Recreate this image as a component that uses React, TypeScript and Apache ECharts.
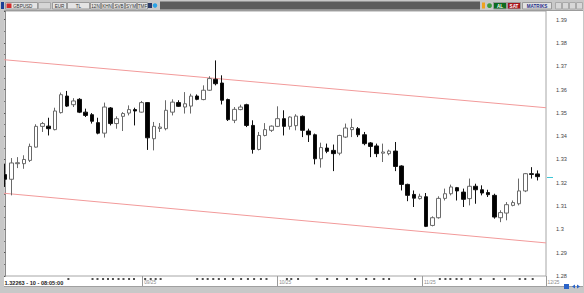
import React, { useEffect, useRef } from "react";
import * as echarts from "echarts";

// ---- data ----
const SYMBOL = "GBPUSD";
const PERIOD = "10";
const LAST_TIME = "08:05:00";
const LAST_PRICE = 1.32263;

const OPEN = [
  1.3235, 1.3215, 1.3282, 1.3282, 1.3296, 1.3353, 1.3442, 1.3443, 1.3428, 1.3501,
  1.3572, 1.3535, 1.3558, 1.3503, 1.3492, 1.3458, 1.3413, 1.3521, 1.3454, 1.3485,
  1.3499, 1.3514, 1.3503, 1.3544, 1.3389, 1.3433, 1.3432, 1.3503, 1.3544, 1.3525,
  1.3529, 1.3572, 1.3557, 1.3597, 1.3644, 1.3628, 1.3557, 1.3468, 1.3514, 1.3535,
  1.3446, 1.3343, 1.3403, 1.3425, 1.3442, 1.3475, 1.3442, 1.3445, 1.3485, 1.3422,
  1.3406, 1.3303, 1.3349, 1.3339, 1.3327, 1.3396, 1.3428, 1.3432, 1.3406, 1.3371,
  1.3358, 1.3327, 1.3325, 1.3336, 1.3272, 1.3193, 1.315, 1.3132, 1.314, 1.3017,
  1.305, 1.3133, 1.3153, 1.3179, 1.316, 1.3132, 1.3185, 1.317, 1.3158, 1.3146,
  1.305, 1.307, 1.3103, 1.311, 1.3165, 1.3239, 1.3238,
];
const HIGH = [
  1.3282, 1.3306, 1.331, 1.3318, 1.3368, 1.3451, 1.3461, 1.3479, 1.3522, 1.3587,
  1.3594, 1.3563, 1.3563, 1.3518, 1.3499, 1.3479, 1.3544, 1.3525, 1.3485, 1.3503,
  1.3532, 1.3522, 1.3551, 1.3546, 1.3461, 1.3456, 1.3554, 1.3558, 1.3554, 1.3589,
  1.3582, 1.3579, 1.3618, 1.3657, 1.3725, 1.3661, 1.3561, 1.3525, 1.3535, 1.3539,
  1.3468, 1.3418, 1.3456, 1.3446, 1.3528, 1.3511, 1.3485, 1.3494, 1.3489, 1.3432,
  1.3411, 1.3372, 1.3368, 1.3364, 1.3406, 1.3454, 1.3475, 1.3439, 1.3418, 1.3375,
  1.3368, 1.3368, 1.3342, 1.3375, 1.3275, 1.3196, 1.3167, 1.3153, 1.3156, 1.3056,
  1.3142, 1.3175, 1.3192, 1.3182, 1.3175, 1.3218, 1.3196, 1.3189, 1.317, 1.3153,
  1.3082, 1.3117, 1.3124, 1.3218, 1.3242, 1.3267, 1.3253,
];
const LOW = [
  1.3182, 1.3146, 1.3263, 1.326, 1.3289, 1.3351, 1.3418, 1.3403, 1.3425, 1.3497,
  1.3525, 1.3525, 1.3499, 1.3482, 1.3454, 1.3408, 1.3394, 1.3446, 1.3432, 1.3422,
  1.3489, 1.3446, 1.3501, 1.3341, 1.3339, 1.3418, 1.3425, 1.3489, 1.3525, 1.3497,
  1.3497, 1.3554, 1.3554, 1.3594, 1.3618, 1.3536, 1.3465, 1.3456, 1.3511, 1.3439,
  1.3325, 1.3339, 1.3399, 1.3418, 1.3439, 1.3403, 1.3428, 1.3425, 1.3396, 1.3375,
  1.3279, 1.3265, 1.3327, 1.325, 1.3318, 1.3392, 1.3396, 1.3396, 1.3361, 1.331,
  1.331, 1.3289, 1.3318, 1.325, 1.3167, 1.3121, 1.3096, 1.3128, 1.301, 1.3013,
  1.3046, 1.3124, 1.3146, 1.3124, 1.3096, 1.3103, 1.311, 1.3146, 1.3139, 1.3046,
  1.3031, 1.3039, 1.3099, 1.3103, 1.316, 1.3218, 1.321,
];
const CLOSE = [
  1.3215, 1.3285, 1.3286, 1.33, 1.3356, 1.3442, 1.3454, 1.3432, 1.3508, 1.3578,
  1.3529, 1.3551, 1.3503, 1.3489, 1.3464, 1.3413, 1.3525, 1.3454, 1.3475, 1.3497,
  1.3514, 1.3508, 1.3544, 1.3393, 1.3442, 1.3439, 1.3511, 1.3546, 1.3528, 1.3539,
  1.3572, 1.3558, 1.3597, 1.3647, 1.3625, 1.3554, 1.3471, 1.3515, 1.3525, 1.3446,
  1.3343, 1.3403, 1.3428, 1.3443, 1.3475, 1.3442, 1.3482, 1.3486, 1.3425, 1.3406,
  1.3303, 1.3351, 1.3335, 1.3325, 1.3403, 1.3435, 1.3437, 1.3406, 1.3368, 1.3356,
  1.3325, 1.3332, 1.3336, 1.327, 1.3193, 1.3146, 1.3134, 1.3142, 1.3013, 1.305,
  1.3133, 1.3153, 1.3182, 1.3165, 1.3129, 1.3185, 1.317, 1.3156, 1.3149, 1.3053,
  1.3072, 1.3106, 1.3115, 1.3165, 1.3239, 1.3236, 1.32263,
];

// trend channel: price at the left and right edges of the plot
const CHANNEL_UPPER = [1.3728, 1.3522];
const CHANNEL_LOWER = [1.3155, 1.2942];

// month separators (in candle-index units) and their labels
const DATE_TICKS = [22.2, 44.0, 67.4, 87.35];
const DATE_LABELS = ["09/25", "10/25", "11/25", "12/25"];

// small event markers in the date strip (candle-index units)
const EVENT_MARKS = [
  10.2, 14.1, 14.9, 15.8, 16.6, 17.4, 18.3, 19.1, 20.0, 20.8, 22.6, 23.5, 24.3, 25.1,
  31.0, 31.9, 32.7, 33.6, 34.5, 35.5, 36.8, 38.1, 39.2, 40.2, 41.3, 42.2, 45.5, 46.2,
  47.3, 50.3, 52.0, 53.6, 55.2, 56.8, 58.3, 59.6, 61.1, 62.0, 66.2, 70.2, 71.1, 71.9,
  72.9, 73.7, 75.1, 76.8, 78.9, 80.7, 83.1, 84.0, 85.2,
];

// y-axis tick labels
const Y_MIN = 1.28;
const Y_MAX = 1.3937;
const Y_STEP = 0.01;

const X_MIN = -0.2;
const X_MAX = 87.35;

const FONT = "'Liberation Sans', Arial, sans-serif";

function btn(x: number, w: number, label: string, fill = "#e4e4e4", color = "#333", bold = false) {
  return [
    {
      type: "rect",
      shape: { x: x + 0.5, y: 2.5, width: w, height: 6.5 },
      style: { fill, stroke: "#9a9a9a", lineWidth: 1 },
      z: 10,
    },
    {
      type: "text",
      x: x + 0.5 + w / 2,
      y: 6,
      style: {
        text: label,
        fill: color,
        fontSize: 4.6,
        fontFamily: FONT,
        fontWeight: bold ? "bold" : "normal",
        align: "center",
        verticalAlign: "middle",
      },
      z: 11,
    },
  ];
}

function chrome(): any[] {
  const g: any[] = [];
  // outer frame pieces
  g.push({ type: "rect", shape: { x: 0, y: 0, width: 584, height: 11 }, style: { fill: "#c8c8c8" }, z: 9 });
  g.push({ type: "line", shape: { x1: 0, y1: 10.5, x2: 584, y2: 10.5 }, style: { stroke: "#9c9c9c", lineWidth: 1 }, z: 9 });
  g.push({ type: "rect", shape: { x: 0, y: 0, width: 4, height: 293 }, style: { fill: "#c8c8c8" }, z: 9 });
  g.push({ type: "rect", shape: { x: 583, y: 0, width: 1, height: 293 }, style: { fill: "#c8c8c8" }, z: 9 });
  g.push({ type: "rect", shape: { x: 0, y: 287, width: 584, height: 6 }, style: { fill: "#c8c8c8" }, z: 9 });
  g.push({ type: "line", shape: { x1: 4, y1: 286.5, x2: 583, y2: 286.5 }, style: { stroke: "#a0a0a0", lineWidth: 1 }, z: 9 });

  // toolbar, left
  g.push({ type: "rect", shape: { x: 1, y: 2, width: 3, height: 7 }, style: { fill: "#1d3f96" }, z: 10 });
  g.push({ type: "rect", shape: { x: 5.5, y: 2.5, width: 32, height: 6.5 }, style: { fill: "#e4e4e4", stroke: "#9a9a9a" }, z: 10 });
  g.push({ type: "rect", shape: { x: 6.5, y: 3.5, width: 5, height: 4.5 }, style: { fill: "#d22a2a" }, z: 11 });
  g.push({
    type: "text", x: 13, y: 6,
    style: { text: SYMBOL, fill: "#333", fontSize: 4.6, fontFamily: FONT, align: "left", verticalAlign: "middle" },
    z: 11,
  });
  g.push({ type: "rect", shape: { x: 38.5, y: 2.5, width: 12, height: 6.5 }, style: { fill: "#d6d6d6", stroke: "#a8a8a8" }, z: 10 });
  g.push(...btn(52, 14, "EUR"));
  g.push(...btn(67, 22, "TL"));
  g.push(...btn(90, 10, "12N"));
  g.push(...btn(101, 11, "KHN"));
  g.push(...btn(113, 11, "SVB"));
  g.push(...btn(125, 11, "SYM"));
  g.push(...btn(137, 10, "TMF"));
  g.push({ type: "rect", shape: { x: 148, y: 3, width: 4, height: 5 }, style: { fill: "#2b3a66" }, z: 10 });
  g.push({ type: "circle", shape: { cx: 155, cy: 5.5, r: 2.2 }, style: { fill: "#2aa3e6" }, z: 10 });
  // dark strip
  g.push({ type: "rect", shape: { x: 160, y: 1.5, width: 320, height: 8 }, style: { fill: "#5c5c5c" }, z: 10 });
  // toolbar, right
  g.push({ type: "rect", shape: { x: 482, y: 2.5, width: 3, height: 6 }, style: { fill: "#f0a21e" }, z: 10 });
  g.push({ type: "circle", shape: { cx: 489.5, cy: 5.7, r: 2.4 }, style: { fill: "#3c9c3c" }, z: 10 });
  g.push(...btn(493, 13, "AL", "#0d6b20", "#ffffff", true));
  g.push(...btn(507, 13, "SAT", "#a6141c", "#ffffff", true));
  g.push(...btn(522, 29, "MATRIKS", "#e2e2e2", "#1f2f8a", true));
  [555, 562, 569, 576].forEach((x) => {
    g.push({ type: "rect", shape: { x: x + 0.5, y: 2.5, width: 6, height: 6.5 }, style: { fill: "#d8d8d8", stroke: "#aaaaaa" }, z: 10 });
  });

  // status text bottom left
  g.push({
    type: "text", x: 4.5, y: 282.5,
    style: {
      text: `${LAST_PRICE.toFixed(5)} - ${PERIOD} - ${LAST_TIME}`,
      fill: "#222", fontSize: 5.6, fontWeight: "bold", fontFamily: FONT,
      align: "left", verticalAlign: "middle",
    },
    z: 10,
  });
  // bottom-right icons
  g.push({ type: "rect", shape: { x: 564, y: 284, width: 5, height: 5 }, style: { fill: "#2a63c8" }, z: 10 });
  g.push({ type: "polygon", shape: { points: [[575, 284.5], [575, 288.5], [572, 286.5]] }, style: { fill: "#2a63c8" }, z: 10 });
  g.push({ type: "polygon", shape: { points: [[577, 284.5], [577, 288.5], [580, 286.5]] }, style: { fill: "#2a63c8" }, z: 10 });
  return g;
}

export default function App() {
  const ref = useRef<HTMLDivElement>(null);

  useEffect(() => {
    if (!ref.current) return;
    const chart = echarts.init(ref.current, undefined, { renderer: "svg" });

    const candleData = OPEN.map((o, i) => [i, o, CLOSE[i], LOW[i], HIGH[i]]);

    const option: any = {
      animation: false,
      backgroundColor: "#ffffff",
      grid: [
        { left: 4, right: 38, top: 11, bottom: 17, show: true, borderColor: "#a6a6a6", borderWidth: 1 },
        { left: 4, right: 38, top: 277, height: 4, show: false },
      ],
      xAxis: [
        {
          type: "value",
          gridIndex: 0,
          min: X_MIN,
          max: X_MAX,
          axisLine: { show: false },
          splitLine: { show: false },
          axisTick: {
            show: true,
            customValues: DATE_TICKS,
            length: 10,
            lineStyle: { color: "#9a9a9a" },
          },
          axisLabel: {
            show: true,
            customValues: DATE_TICKS,
            formatter: (v: number) => {
              let best = 0;
              DATE_TICKS.forEach((t, i) => {
                if (Math.abs(t - v) < Math.abs(DATE_TICKS[best] - v)) best = i;
              });
              return DATE_LABELS[best];
            },
            align: "left",
            margin: 4,
            padding: [0, 0, 0, 1.5],
            fontSize: 4.8,
            color: "#8a8a8a",
            fontFamily: FONT,
          },
        },
        { type: "value", gridIndex: 1, min: X_MIN, max: X_MAX, show: false },
      ],
      yAxis: [
        {
          type: "value",
          gridIndex: 0,
          position: "right",
          offset: 7,
          min: Y_MIN,
          max: Y_MAX,
          interval: Y_STEP,
          splitLine: { show: false },
          axisLine: { show: true, lineStyle: { color: "#8a8a8a", width: 1 } },
          axisTick: { show: true, inside: true, length: 3, lineStyle: { color: "#555" } },
          minorTick: { show: true, splitNumber: 2, length: 2, lineStyle: { color: "#777" } },
          axisLabel: {
            show: true,
            showMaxLabel: false,
            margin: 3,
            fontSize: 5.6,
            color: "#444",
            fontFamily: FONT,
          },
        },
        { type: "value", gridIndex: 1, min: 0, max: 1, show: false },
      ],
      series: [
        {
          type: "candlestick",
          xAxisIndex: 0,
          yAxisIndex: 0,
          data: candleData,
          encode: { x: 0, y: [1, 2, 3, 4] },
          barWidth: 4,
          itemStyle: {
            color: "#ffffff",
            color0: "#000000",
            borderColor: "#6a6a6a",
            borderColor0: "#111111",
            borderWidth: 1,
          },
          z: 3,
        },
        {
          type: "line",
          xAxisIndex: 0,
          yAxisIndex: 0,
          data: [[X_MIN, CHANNEL_UPPER[0]], [X_MAX, CHANNEL_UPPER[1]]],
          showSymbol: false,
          symbol: "none",
          lineStyle: { color: "#f29a9a", width: 1 },
          z: 2,
        },
        {
          type: "line",
          xAxisIndex: 0,
          yAxisIndex: 0,
          data: [[X_MIN, CHANNEL_LOWER[0]], [X_MAX, CHANNEL_LOWER[1]]],
          showSymbol: false,
          symbol: "none",
          lineStyle: { color: "#f29a9a", width: 1 },
          z: 2,
        },
        {
          type: "scatter",
          xAxisIndex: 1,
          yAxisIndex: 1,
          data: EVENT_MARKS.map((x) => [x, 0.5]),
          symbol: "rect",
          symbolSize: 2,
          itemStyle: { color: "#222" },
          silent: true,
        },
      ],
      graphic: chrome(),
    };

    chart.setOption(option);

    // last-price marker between plot border and price axis
    const yPix = chart.convertToPixel({ yAxisIndex: 0 }, LAST_PRICE) as number;
    const xEnd = chart.convertToPixel({ xAxisIndex: 0 }, X_MAX) as number;
    if (isFinite(yPix) && isFinite(xEnd)) {
      option.graphic = [
        ...chrome(),
        {
          type: "line",
          shape: { x1: xEnd + 1, y1: Math.round(yPix) + 0.5, x2: xEnd + 7, y2: Math.round(yPix) + 0.5 },
          style: { stroke: "#3cc6d6", lineWidth: 1 },
          z: 10,
        },
      ];
      chart.setOption(option, true);
    }

    return () => chart.dispose();
  }, []);

  return (
    <div
      ref={ref}
      style={{ position: "fixed", left: 0, top: 0, width: 584, height: 293 }}
    />
  );
}
